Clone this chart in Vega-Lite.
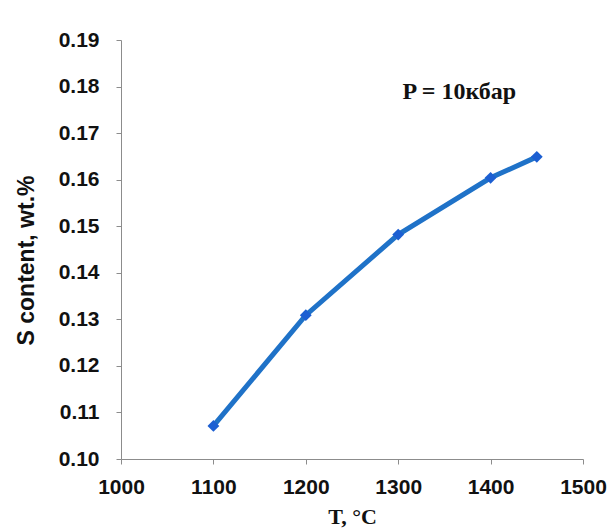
{
  "$schema": "https://vega.github.io/schema/vega-lite/v6.json",
  "width": 462,
  "height": 419,
  "autosize": {"type": "none"},
  "padding": {"left": 121, "top": 40, "right": 33, "bottom": 69},
  "background": "#ffffff",
  "config": {
    "view": {"stroke": null},
    "axis": {
      "domainColor": "#8c8c8c",
      "tickColor": "#8c8c8c",
      "grid": false,
      "labelFont": "Liberation Sans",
      "labelFontWeight": "bold",
      "labelFontSize": 21,
      "labelColor": "#111111",
      "titleColor": "#111111"
    }
  },
  "datasets": {
    "series": [
      {"T": 1100, "S": 0.1071},
      {"T": 1200, "S": 0.1309},
      {"T": 1300, "S": 0.1482},
      {"T": 1400, "S": 0.1604},
      {"T": 1450, "S": 0.1649}
    ],
    "note": [
      {"T": 1366, "S": 0.1788, "label": "P = 10кбар"}
    ]
  },
  "layer": [
    {
      "data": {"name": "series"},
      "mark": {"type": "line", "color": "#1f72c8", "strokeWidth": 5},
      "encoding": {
        "x": {
          "field": "T", "type": "quantitative",
          "scale": {"domain": [1000, 1500], "nice": false, "zero": false},
          "axis": {
            "values": [1000, 1100, 1200, 1300, 1400, 1500],
            "format": "d",
            "title": "T, °C",
            "titleFont": "Liberation Serif",
            "titleFontSize": 22,
            "titleFontWeight": "bold",
            "titlePadding": 9,
            "tickSize": 5,
            "labelPadding": 12,
            "labelFlush": false
          }
        },
        "y": {
          "field": "S", "type": "quantitative",
          "scale": {"domain": [0.10, 0.19], "nice": false, "zero": false},
          "axis": {
            "values": [0.10, 0.11, 0.12, 0.13, 0.14, 0.15, 0.16, 0.17, 0.18, 0.19],
            "format": ".2f",
            "title": "S content, wt.%",
            "titleFont": "Liberation Sans",
            "titleFontSize": 23,
            "titleFontWeight": "bold",
            "titlePadding": 20,
            "titleY": 220,
            "tickSize": 5,
            "labelPadding": 17,
            "labelFlush": false
          }
        }
      }
    },
    {
      "data": {"name": "series"},
      "mark": {"type": "point", "shape": "diamond", "filled": true, "color": "#1c5fd2", "size": 140, "opacity": 1},
      "encoding": {
        "x": {"field": "T", "type": "quantitative"},
        "y": {"field": "S", "type": "quantitative"}
      }
    },
    {
      "data": {"name": "note"},
      "mark": {"type": "text", "font": "Liberation Serif", "fontWeight": "bold", "fontSize": 24, "color": "#111111", "align": "center", "baseline": "middle"},
      "encoding": {
        "x": {"field": "T", "type": "quantitative"},
        "y": {"field": "S", "type": "quantitative"},
        "text": {"field": "label"}
      }
    }
  ]
}
